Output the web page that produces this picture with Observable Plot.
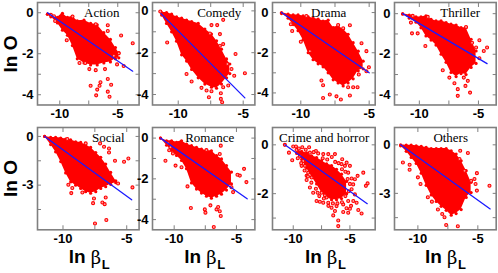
<!DOCTYPE html>
<html><head><meta charset="utf-8">
<script src="https://cdn.jsdelivr.net/npm/d3@7"></script>
<script src="https://cdn.jsdelivr.net/npm/@observablehq/plot@0.6"></script>
<style>html,body{margin:0;padding:0;background:#fff}#c{position:relative;width:498px;height:273px;overflow:hidden}#c svg{position:absolute;max-width:none}</style>
</head><body><div id="c"></div>
<script>
// Estimated read-offs. The dense cloud of each panel is recorded as its upper and lower edge; stray points are listed singly.
const actionEdgeX=[-11.06,-10.77,-10.2,-9.77,-9.34,-8.91,-8.49,-7.91,-7.34,-6.77,-6.2,-5.63,-5.2,-4.91];
const actionTop=[-.07,-.1,-.23,-.03,-.23,-.18,-.39,-.36,-.52,-.59,-.97,-1.3,-1.7,-1.95];
const actionBottom=[-.07,-.2,-.5,-.85,-1.1,-1.6,-2.25,-2.45,-2.55,-2.55,-2.45,-2.4,-2.25,-2.2];
const actionOutX=[-7.34,-6.77,-6.86,-6.49,-6.57,-5.86,-5.57,-5.86,-5.71,-5.86,-5.86,-4.71,-3.71,-5.34,-4.91,-5.06,-4.49,-9.4,-6.9,-8.9,-10.77,-10.5,-10.4,-8.3,-7.8,-7.45,-6.9,-6.1];
const actionOutY=[-3.56,-3.75,-4.03,-3.39,-3.56,-3.23,-3.51,-3.85,-4.1,-.61,-.89,-1.11,-1.49,-2.1,-1.98,-2.52,-2.6,-1.34,-.56,-.18,-.1,-.17,-.4,-2.45,-2.45,-2.75,-2.8,-2.75];
const actionFitX=[-11.06,-3.71], actionFitY=[0,-2.85];

const comedyEdgeX=[-11.28,-10.9,-10.51,-10.13,-9.74,-9.36,-8.97,-8.46,-7.95,-7.44,-7.05,-6.67,-6.28,-6.03];
const comedyTop=[-.08,-.08,-.16,-.29,-.35,-.44,-.51,-.6,-.87,-1.11,-1.43,-1.83,-2.3,-2.54];
const comedyBottom=[-.2,-.6,-1,-1.45,-2.1,-2.4,-2.8,-3.2,-3.5,-3.65,-3.7,-3.5,-3.2,-3];
const comedyOutX=[-11.38,-10.85,-7.44,-7,-6.54,-6.79,-7.56,-5.59,-4.87,-5.69,-6.21,-5.9,-8.97,-9.36,-8.21,-7.82,-7.44,-7.64,-6.72,-6.72,-6.62,-6.54,-6.15,-6.54,-6.79];
const comedyOutY=[-.03,-1.51,-.68,-.68,-.43,-1.11,-1.08,-2.06,-2.98,-3.1,-2.54,-2.78,-3.38,-3.02,-3.68,-3.81,-3.84,-4.13,-3.94,-4.21,-4.37,-3.65,-3.57,-1.59,-1.67];
const comedyFitX=[-11.33,-4.87], comedyFitY=[-.13,-4.16];

const dramaEdgeX=[-11.41,-10.93,-10.56,-10.2,-9.83,-9.46,-9.1,-8.73,-8.37,-8,-7.63,-7.27,-6.9,-6.54,-6.17,-5.8,-5.44];
const dramaTop=[0,-.08,-.12,-.12,-.17,-.22,-.28,-.33,-.42,-.38,-.75,-.67,-.83,-1.08,-1.5,-1.92,-2.42];
const dramaBottom=[-.05,-.28,-.6,-.9,-1.35,-2,-2.35,-2.55,-2.7,-3,-3.35,-3.5,-3.65,-3.5,-3.3,-2.9,-2.8];
const dramaOutX=[-9.59,-10.63,-10.73,-10,-9.34,-7.27,-6.41,-6.9,-5.56,-5.2,-5.02,-5.2,-5.76,-8.49,-8.37,-7.88,-8.37,-7.39,-7.07,-6.41,-6.54,-6.17,-5.85];
const dramaOutY=[-.17,-.92,-.58,-1.45,-1.92,-.62,-.63,-.78,-1.53,-1.92,-2.72,-2.92,-3.08,-3.38,-3.62,-4.08,-4.25,-4.17,-4.33,-4.13,-3.72,-3.72,-3.72];
const dramaFitX=[-11.41,-5], dramaFitY=[0,-3];

const thrillerEdgeX=[-11.41,-10.85,-10.28,-9.86,-9.44,-9.01,-8.59,-8.16,-7.74,-7.32,-6.89,-6.47,-6.05,-5.62,-5.2];
const thrillerTop=[0,-.07,-.16,-.16,-.11,-.28,-.36,-.36,-.44,-.52,-.56,-.69,-.69,-1.26,-1.84];
const thrillerBottom=[-.03,-.22,-.42,-.7,-1.1,-1.3,-1.55,-2,-2.4,-2.9,-3.1,-2.95,-3,-2.65,-2.45];
const thrillerOutX=[-10.62,-10.14,-9.49,-7.46,-8.02,-7.03,-6.75,-6.75,-5.71,-6.24,-5.9,-6.1,-5.54,-4.92,-5.2,-4.27,-4.55,-4.92,-6.05,-9.29,-10.56,-10.71];
const thrillerOutY=[-.97,-.97,-1.59,-3.15,-2.79,-3.43,-3.72,-4.05,-3.89,-3.15,-3.31,-3.56,-1.43,-1.31,-1.67,-1.67,-1.84,-2.2,-.66,-.16,-.11,-.44];
const thrillerFitX=[-11.41,-4.27], thrillerFitY=[0,-2.46];

const socialEdgeX=[-11.44,-10.97,-10.58,-10.18,-9.79,-9.4,-9.01,-8.61,-8.22,-7.83,-7.43,-7.04,-6.65,-6.26,-5.86];
const socialTop=[0,-.06,-.06,-.1,-.16,-.21,-.33,-.37,-.53,-.68,-.99,-1.29,-1.7,-2.22,-2.73];
const socialBottom=[0,-.5,-.95,-1.55,-2.25,-2.8,-3,-3.2,-3.4,-3.5,-3.4,-3.2,-3.1,-2.95,-2.85];
const socialOutX=[-9.66,-8.22,-7.09,-6.78,-6.39,-6.39,-5.92,-5.21,-4.87,-4.55,-5.68,-9.58,-9.27,-9.35,-8.48,-7.64,-7.57,-6.91,-6.65,-6.73,-7.49,-6.6];
const socialOutY=[-.16,-.43,-.43,-.64,-.74,-.99,-1.5,-1.56,-1.36,-3.14,-2.9,-2.98,-3.18,-3.49,-3.45,-4.11,-3.82,-4.07,-3.76,-4.17,-5.36,-5.15];
const socialFitX=[-11.44,-4.61], socialFitY=[0,-3.9];

const romanceEdgeX=[-11.1,-10.61,-10.21,-9.81,-9.41,-9.01,-8.61,-8.21,-7.81,-7.41,-7.01,-6.6,-6.2,-5.8,-5.4];
const romanceTop=[0,-.13,-.13,-.21,-.13,-.29,-.37,-.46,-.54,-.62,-.62,-.86,-1.02,-1.35,-1.67];
const romanceBottom=[0,-.35,-.6,-.85,-1.1,-1.5,-2.2,-2.5,-2.7,-2.85,-2.95,-2.85,-2.75,-2.55,-2.25];
const romanceOutX=[-10.7,-9.89,-9.41,-8.93,-8.66,-7.54,-7.49,-7.09,-6.82,-6.6,-6.34,-6.26,-6.47,-6.26,-6.34,-7.41,-4.73,-4.92,-4.39,-4.2,-5.27,-5.4,-10.4,-10.1,-10.3,-10.5];
const romanceOutY=[-1.11,-1.35,-1.43,-2.37,-3.43,-3.5,-3.66,-3.3,-4.36,-3.5,-3.59,-3.82,-3.38,-.37,-.78,-.59,-1.84,-1.8,-1.51,-2.16,-2.65,-2.41,-.6,-.75,-.45,-.25];
const romanceFitX=[-11.1,-4.14], romanceFitY=[0,-2.98];

const crimeEdgeX=[-9.7,-9.26,-8.82,-8.38,-7.94,-7.5,-7.06,-6.62,-6.18,-5.74,-5.29];
const crimeTop=[-.2,-.27,-.33,-.45,-.52,-.65,-.78,-.85,-1,-1.2,-1.5];
const crimeBottom=[-.35,-.6,-.95,-1.3,-1.6,-1.95,-2.15,-2.25,-2.25,-2.2,-2];
const crimeOutX=[-10.74,-10.38,-10.09,-10,-9.76,-9.71,-9.41,-9.12,-9.26,-8.82,-8.82,-8.38,-7.94,-7.65,-7.35,-7.85,-7.5,-7.21,-6.91,-6.47,-6.32,-6.03,-6.03,-5.59,-5.15,-5,-4.41,-3.97,-4.26,-3.82,-3.44,-3.59,-4.32,-4.85,-5.15,-5.68,-5.29,-5,-6.32,-6.91,-8,-8.53,-7.35,-5.74,-4.71,-4.85,-4.56,-5.15,-6.18,-6.62,-7.06,-5.59,-8.53,-8.24,-8.68,-8.97,-4.56,-5.44,-9.5,-9.2,-8.9,-8.6,-8.2,-7.8,-7.4,-7,-6.6,-6.3,-6,-5.7,-5.4,-5.2,-5,-5.1,-5.4,-5.7,-6.1,-6.5,-6.9,-7.3,-7.7,-8,-8.4,-8.7,-9,-9.3,-9.6,-4.7,-4.9,-5.3];
const crimeOutY=[0,-.32,-.63,-.07,-.07,-.21,-.45,-.66,-.86,-1.27,-1.44,-1.34,-2.3,-2.33,-2.37,-1.96,-1.96,-2.07,-2.37,-2.89,-2.71,-3.1,-3.33,-2.75,-2.78,-2.62,-2.37,-2.81,-2.67,-1.14,-1.58,-1.68,-1.27,-1.38,-1.14,-.59,-.73,-.86,-.38,-.38,-.25,-.32,-.38,-.79,-1.62,-1.82,-2.03,-2.3,-2.51,-2.58,-2.16,-2.44,-1.75,-1.96,-1.14,-.86,-1.41,-.86,-.15,-.1,-.2,-.1,-.3,-.35,-.55,-.6,-.5,-.7,-.75,-1,-1.1,-1.4,-1.6,-1.9,-2.1,-2.35,-2.4,-2.4,-2.5,-2.2,-2.1,-1.8,-1.55,-1.3,-1.05,-.75,-.55,-2.3,-2.5,-2.6];
const crimeFitX=[-10.74,-3.47], crimeFitY=[0,-2.41];

const othersEdgeX=[-11.44,-10.97,-10.56,-10.14,-9.72,-9.31,-8.89,-8.47,-8.06,-7.64,-7.22,-6.81,-6.39,-5.97,-5.56];
const othersTop=[0,-.02,-.02,-.06,-.1,-.16,-.23,-.23,-.23,-.23,-.37,-.57,-.99,-1.6,-2.32];
const othersBottom=[-.06,-.4,-.78,-1.15,-1.75,-2.5,-3.1,-3.5,-3.8,-4.05,-4.35,-4.25,-4,-3.25,-2.95];
const othersOutX=[-11.25,-10.69,-10.69,-10,-9.78,-8.83,-9.17,-8.33,-7.97,-7.64,-7.78,-6.67,-6.47,-5.83,-6.53,-6.11,-5.56,-5.28,-5.08,-5.19,-4.03,-5.08];
const othersOutY=[-1.09,-1.23,-1.54,-2.01,-2.42,-3.51,-3.24,-4,-4.27,-4.95,-4.48,-5.03,-.37,-.51,-.88,-1.6,-2.22,-2.11,-1.75,-2.42,-2.53,-2.83];
const othersFitX=[-11.44,-3.97], othersFitY=[0,-3.96];

const xTicks=[-10,-5], xMinor=[-7.5];
const yTicksA=[0,-2,-4], yMinorA=[-1,-3];
const yTicksB=[0,-3], yMinorB=[-1.5,-4.5];
const yTicksC=[0,-2], yMinorC=[-1,-3];

const layout={marginLeft:36,marginRight:2,marginTop:2,red:"#ff0000",blue:"#1a1aff",frame:"#808080"};
const panels=[
 {title:"Action",cx:101,cy:12,l:36.7,r:138.3,t:1.5,b:104,xd:[-11.92,-3.16],yd:[-4.5,.5],yt:yTicksA,ym:yMinorA,ex:actionEdgeX,et:actionTop,eb:actionBottom,ox:actionOutX,oy:actionOutY,fx:actionFitX,fy:actionFitY,ylab:53},
 {title:"Comedy",cx:219,cy:12,l:152.3,r:254.7,t:1.5,b:104,xd:[-11.98,-4.1],yd:[-4.5,.4],yt:yTicksA,ym:yMinorA,ex:comedyEdgeX,et:comedyTop,eb:comedyBottom,ox:comedyOutX,oy:comedyOutY,fx:comedyFitX,fy:comedyFitY},
 {title:"Drama",cx:328.5,cy:12,l:272.3,r:375,t:1.5,b:104,xd:[-12.07,-4.56],yd:[-4.6,.5],yt:yTicksA,ym:yMinorA,ex:dramaEdgeX,et:dramaTop,eb:dramaBottom,ox:dramaOutX,oy:dramaOutY,fx:dramaFitX,fy:dramaFitY},
 {title:"Thriller",cx:460,cy:12,l:394.3,r:496,t:1.5,b:104,xd:[-12.1,-3.5],yd:[-4.5,.55],yt:yTicksA,ym:yMinorA,ex:thrillerEdgeX,et:thrillerTop,eb:thrillerBottom,ox:thrillerOutX,oy:thrillerOutY,fx:thrillerFitX,fy:thrillerFitY},
 {title:"Social",cx:107.5,cy:137.7,l:36.7,r:138.3,t:127,b:229.3,xd:[-12,-4.03],yd:[-5.75,.55],yt:yTicksB,ym:yMinorB,ex:socialEdgeX,et:socialTop,eb:socialBottom,ox:socialOutX,oy:socialOutY,fx:socialFitX,fy:socialFitY,ylab:178,xlab:68},
 {title:"Romance",cx:209.5,cy:137.7,l:152.3,r:254.7,t:127,b:229.3,xd:[-11.74,-3.52],yd:[-4.5,.52],yt:yTicksA,ym:yMinorA,ex:romanceEdgeX,et:romanceTop,eb:romanceBottom,ox:romanceOutX,oy:romanceOutY,fx:romanceFitX,fy:romanceFitY,xlab:184},
 {title:"Crime and horror",cx:324,cy:137.7,l:272.3,r:375,t:127,b:229.3,xd:[-11.83,-2.77],yd:[-3.48,.71],yt:yTicksC,ym:yMinorC,ex:crimeEdgeX,et:crimeTop,eb:crimeBottom,ox:crimeOutX,oy:crimeOutY,fx:crimeFitX,fy:crimeFitY,xlab:304.7},
 {title:"Others",cx:450.5,cy:137.7,l:394.3,r:496,t:127,b:229.3,xd:[-11.95,-3.47],yd:[-5.25,1.07],yt:yTicksB,ym:yMinorB,ex:othersEdgeX,et:othersTop,eb:othersBottom,ox:othersOutX,oy:othersOutY,fx:othersFitX,fy:othersFitY,xlab:424.7}
];
const fmt=d=>String(d);
const host=document.getElementById("c");
for(const p of panels){
  const {marginLeft,marginRight,marginTop}=layout;
  const marginBottom=p.xlab?43:22;
  const edge=p.ex.map((x,i)=>({x,top:p.et[i],bottom:p.eb[i]}));
  const out=p.ox.map((x,i)=>({x,y:p.oy[i]}));
  const fit=p.fx.map((x,i)=>({x,y:p.fy[i]}));
  const solid={r:1.6,fill:layout.red};
  const hollow={r:1.5,stroke:layout.red,strokeWidth:1.1,fill:"#ff9a9a"};
  const tick={tickSize:-4,stroke:layout.frame,strokeWidth:1,label:null};
  const lab={fontFamily:"Liberation Sans",fontWeight:"bold",fontSize:13,fill:"#000"};
  const marks=[
    Plot.areaY(edge,{x:"x",y1:"top",y2:"bottom",fill:layout.red}),
    Plot.dot(edge,{x:"x",y:"top",...solid}),
    Plot.dot(edge,{x:"x",y:"bottom",...solid}),
    Plot.dot(out,{x:"x",y:"y",...hollow}),
    Plot.line(fit,{x:"x",y:"y",stroke:layout.blue,strokeWidth:1.3}),
    Plot.frame({stroke:layout.frame,strokeWidth:1.6}),
    Plot.axisX(xTicks,{...tick,anchor:"bottom",text:null}),
    Plot.axisX(xMinor,{...tick,anchor:"bottom",text:null}),
    Plot.axisX(xTicks.concat(xMinor),{...tick,anchor:"top",text:null}),
    Plot.axisX(xTicks,{anchor:"bottom",tickSize:0,tickPadding:4,label:null,tickFormat:fmt,...lab}),
    Plot.axisY(p.yt,{...tick,anchor:"left",text:null}),
    Plot.axisY(p.ym,{...tick,anchor:"left",text:null}),
    Plot.axisY(p.yt.concat(p.ym),{...tick,anchor:"right",text:null}),
    Plot.axisY(p.yt,{anchor:"left",tickSize:0,tickPadding:4,label:null,tickFormat:fmt,...lab}),
    Plot.text([p.title],{frameAnchor:"top-left",dx:p.cx-p.l,dy:p.cy-p.t,textAnchor:"middle",lineAnchor:"middle",fontFamily:"Liberation Serif",fontSize:13,fill:"#000"})
  ];
  if(p.ylab) marks.push(Plot.text(["ln O"],{frameAnchor:"top-left",dx:10.5-p.l,dy:p.ylab-p.t,rotate:-90,textAnchor:"middle",lineAnchor:"middle",fontFamily:"Liberation Sans",fontWeight:"bold",fontSize:19,fill:"#000"}));
  if(p.xlab){
    const base={frameAnchor:"bottom-left",textAnchor:"start",lineAnchor:"middle",fill:"#000"};
    marks.push(
      Plot.text(["ln"],{...base,dx:p.xlab-p.l,dy:256.7-p.b,fontFamily:"Liberation Sans",fontWeight:"bold",fontSize:19}),
      Plot.text(["\u03b2"],{...base,dx:p.xlab+22-p.l,dy:257.5-p.b,fontFamily:"DejaVu Serif",fontSize:18}),
      Plot.text(["L"],{...base,dx:p.xlab+33-p.l,dy:264-p.b,fontFamily:"Liberation Sans",fontWeight:"bold",fontSize:13})
    );
  }
  const chart=Plot.plot({
    width:p.r-p.l+marginLeft+marginRight,height:p.b-p.t+marginTop+marginBottom,
    marginLeft,marginRight,marginTop,marginBottom,
    style:{background:"transparent",overflow:"visible"},
    x:{domain:p.xd,axis:null},y:{domain:p.yd,axis:null},marks
  });
  chart.style.left=(p.l-marginLeft)+"px";
  chart.style.top=(p.t-marginTop)+"px";
  host.appendChild(chart);
}
</script></body></html>
